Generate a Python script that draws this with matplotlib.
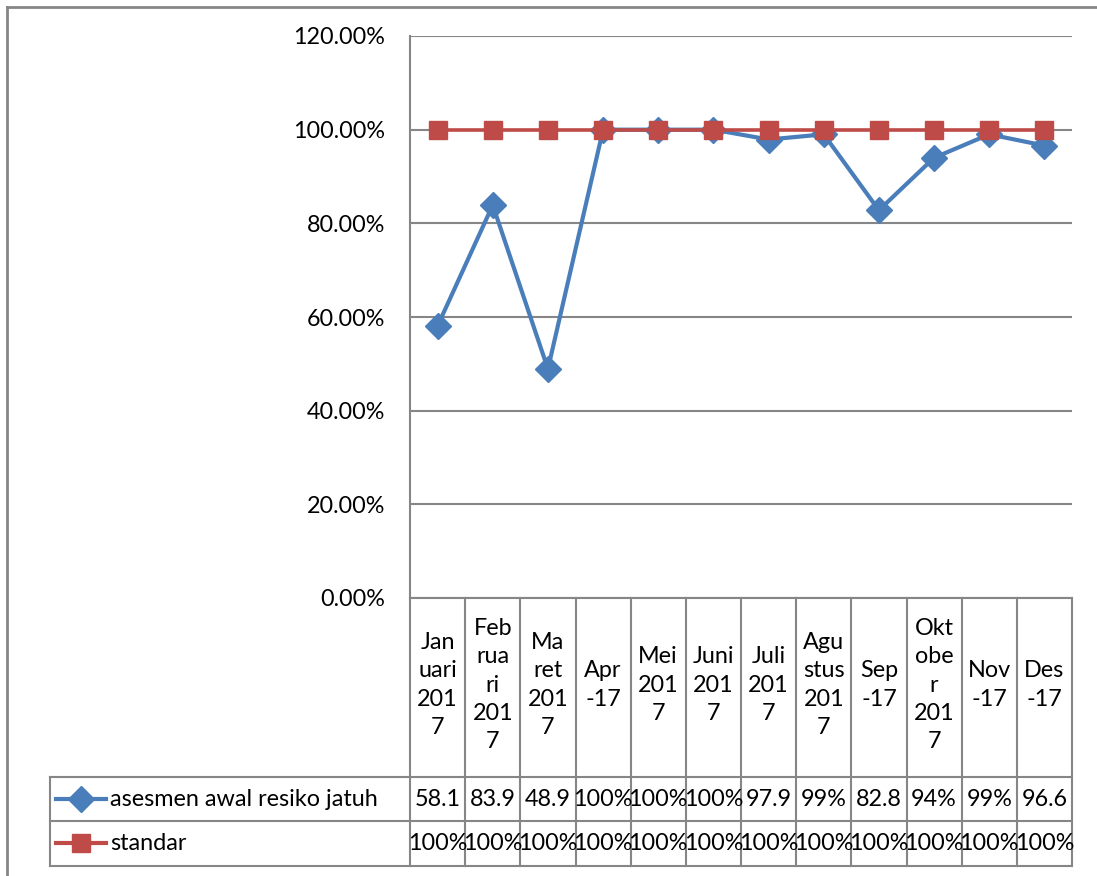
import matplotlib.pyplot as plt
import matplotlib.transforms as mtransforms
from matplotlib.lines import Line2D

plt.rcParams['font.family'] = ['Lato', 'DejaVu Sans']

bulan = ["Jan\nuari\n201\n7", "Feb\nrua\nri\n201\n7", "Ma\nret\n201\n7", "Apr\n-17",
         "Mei\n201\n7", "Juni\n201\n7", "Juli\n201\n7", "Agu\nstus\n201\n7",
         "Sep\n-17", "Okt\nobe\nr\n201\n7", "Nov\n-17", "Des\n-17"]
asesmen = [58.1, 83.9, 48.9, 100, 100, 100, 97.9, 99, 82.8, 94, 99, 96.6]
standar = [100, 100, 100, 100, 100, 100, 100, 100, 100, 100, 100, 100]
yticks = [0, 20, 40, 60, 80, 100, 120]

biru = "#4A7EBB"
merah = "#BE4B48"
abu = "#868686"
W, H = 1097, 876
fs = 16.8


def fy(y):
    return 1 - y / H


def fmt(v):
    if float(v).is_integer():
        return f"{int(v)}%"
    return f"{v:.1f}"


fig = plt.figure(figsize=(W / 100, H / 100), dpi=100)
ax = fig.add_axes([410 / W, fy(598), 662 / W, (598 - 36) / H])
x = list(range(len(bulan)))
ax.plot(x, asesmen, color=biru, lw=3, marker="D", ms=13, zorder=3)
ax.plot(x, standar, color=merah, lw=2.6, marker="s", ms=13, zorder=4)
ax.set_xlim(-0.5, len(bulan) - 0.5)
ax.set_ylim(0, 120)
ax.set_yticks(yticks)
ax.set_yticklabels([f"{t:.2f}%" for t in yticks], fontsize=fs)
ax.tick_params(axis="y", length=0, pad=18)
ax.set_xticks([])
ax.grid(axis="y", color=abu, lw=1.5)
ax.set_axisbelow(True)
for s in ["top", "right", "bottom"]:
    ax.spines[s].set_visible(False)
ax.spines["left"].set_color(abu)
ax.spines["left"].set_linewidth(1.5)

# data table under the chart
tr = mtransforms.blended_transform_factory(ax.transData, fig.transFigure)
tf = fig.transFigure
x0, x1 = -0.5, len(bulan) - 0.5
rows = [598, 777, 821, 866]
for y in rows[1:]:
    fig.add_artist(Line2D([50 / W, 1072 / W], [fy(y), fy(y)], transform=tf, color=abu, lw=1.5))
fig.add_artist(Line2D([x0, x1], [fy(598), fy(598)], transform=tr, color=abu, lw=1.5))
fig.add_artist(Line2D([50 / W, 50 / W], [fy(777), fy(866)], transform=tf, color=abu, lw=1.5))
for i in range(len(bulan) + 1):
    fig.add_artist(Line2D([i - 0.5, i - 0.5], [fy(598), fy(866)], transform=tr, color=abu, lw=1.5))

for i, lab in enumerate(bulan):
    fig.text(i, fy(685), lab, transform=tr, ha="center", va="center",
             fontsize=fs, linespacing=1.42)
    fig.text(i, fy(799), fmt(asesmen[i]), transform=tr, ha="center", va="center", fontsize=fs)
    fig.text(i, fy(843), fmt(standar[i]), transform=tr, ha="center", va="center", fontsize=fs)

# legend keys inside the table
for y, c, m, name in [(799, biru, "D", "asesmen awal resiko jatuh"),
                      (843, merah, "s", "standar")]:
    fig.add_artist(Line2D([56 / W, 106 / W], [fy(y), fy(y)], transform=tf, color=c, lw=3))
    fig.add_artist(Line2D([81 / W], [fy(y)], transform=tf, color=c, marker=m, ms=13, lw=0))
    fig.text(110 / W, fy(y), name, transform=tf, ha="left", va="center", fontsize=fs)

# outer chart frame
fig.add_artist(Line2D([7 / W, 1], [fy(7), fy(7)], transform=tf, color=abu, lw=2))
fig.add_artist(Line2D([7 / W, 7 / W], [fy(7), 0], transform=tf, color=abu, lw=2))

fig.savefig("out.png", dpi=100)
